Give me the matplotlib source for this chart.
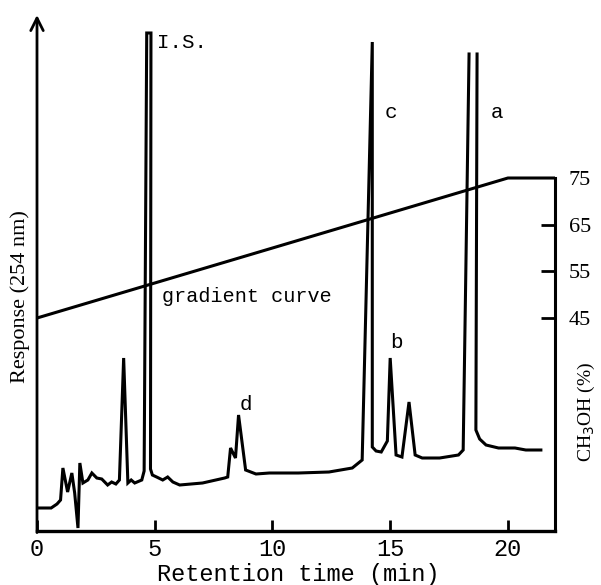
import numpy as np
import matplotlib
matplotlib.use("Agg")
import matplotlib.pyplot as plt

# ---- data ----
time_min = [0.0, 0.6, 0.85, 1.0, 1.1, 1.3, 1.48, 1.6, 1.74, 1.82, 1.95, 2.16, 2.33,
            2.54, 2.75, 3.0, 3.17, 3.35, 3.5, 3.68, 3.86, 4.0, 4.15, 4.45, 4.55,
            4.66, 4.84, 4.82, 4.9, 5.08, 5.34, 5.55, 5.77, 6.06, 7.03, 7.97, 8.1,
            8.22, 8.43, 8.56, 8.86, 9.3, 9.87, 11.1, 12.4, 13.39, 13.81, 14.24,
            14.24, 14.4, 14.62, 14.88, 15.0, 15.25, 15.5, 15.8, 16.06, 16.36,
            17.1, 17.9, 18.1, 18.35, np.nan, 18.69, 18.64, 18.8, 19.07, 19.6,
            20.3, 20.76, 21.4]
response = [23, 23, 27, 31, 63, 39, 58, 38, 3, 68, 48, 51, 58,
            53, 52, 46, 49, 47, 51, 173, 48, 51, 48, 51, 60,
            498, 498, 62, 56, 54, 51, 54, 49, 46, 48, 53, 54,
            83, 73, 116, 61, 57, 58, 58, 59, 63, 71, 489,
            84, 80, 79, 90, 173, 76, 74, 129, 76, 73,
            73, 76, 81, 477, np.nan, 477, 101, 92, 86, 83,
            83, 81, 81]

grad_time = [0, 20, 22]
grad_meoh = [45, 75, 75]

x_ticks = [0, 5, 10, 15, 20]
meoh_ticks = [45, 55, 65, 75]

peak_labels = ["I.S.", "c", "a", "b", "d"]
peak_label_t = [5.1, 14.75, 19.25, 15.0, 8.6]
peak_label_r = [489, 419, 419, 189, 126]

# ---- figure ----
W, H = 601, 585
fig = plt.figure(figsize=(W / 100, H / 100), dpi=100)
x0, x1, yb, yt = 37, 555, 531, 15
ax = fig.add_axes([x0 / W, (H - yb) / H, (x1 - x0) / W, (yb - yt) / H])
ax.set_xlim(0, 22)
ax.set_ylim(0, 516)

ax.plot(time_min, response, color="black", lw=2.2, solid_joinstyle="miter")

for s in ["top", "right", "left"]:
    ax.spines[s].set_visible(False)
ax.spines["bottom"].set_linewidth(2.4)
ax.set_yticks([])
ax.set_xticks(x_ticks)
ax.tick_params(axis="x", direction="in", length=8, width=2, pad=5,
               labelsize=17)
for lab in ax.get_xticklabels():
    lab.set_fontfamily("Liberation Mono")

fig.text(298 / W, 1 - 574 / H, "Retention time (min)", family="Liberation Mono",
         fontsize=17, ha="center", va="center")
fig.text(20 / W, 1 - 297 / H, "Response (254 nm)", family="Liberation Serif",
         fontsize=16, ha="center", va="center", rotation=90)

# left axis with arrow
ax.annotate("", xy=(0, 1.0), xytext=(0, -0.003), xycoords="axes fraction",
            arrowprops=dict(arrowstyle="->,head_length=0.9,head_width=0.45",
                            lw=2, color="black", shrinkA=0, shrinkB=0))

# right axis: gradient
ax2 = ax.twinx()
ax2.set_ylim(-0.64, 109.93)
ax2.plot(grad_time, grad_meoh, color="black", lw=2.2)
for s in ["top", "left", "bottom"]:
    ax2.spines[s].set_visible(False)
ax2.spines["right"].set_bounds(-0.64, 75)
ax2.spines["right"].set_linewidth(2.2)
ax2.set_yticks(meoh_ticks)
ax2.tick_params(axis="y", direction="in", length=10, width=2, pad=10,
                labelsize=16)
ax2.yaxis.get_major_ticks()[-1].tick2line.set_visible(False)
for lab in ax2.get_yticklabels():
    lab.set_fontfamily("Liberation Serif")

fig.text(586 / W, 1 - 412 / H, "CH$_3$OH (%)", family="Liberation Serif",
         fontsize=14, ha="center", va="center", rotation=90)

for txt, t, r in zip(peak_labels, peak_label_t, peak_label_r):
    ax.text(t, r, txt, family="Liberation Mono", fontsize=15,
            ha="left", va="center")

ax.text(5.3, 234, "gradient curve", family="Liberation Mono", fontsize=14.5,
        ha="left", va="center")

fig.savefig("out.png", dpi=100)
